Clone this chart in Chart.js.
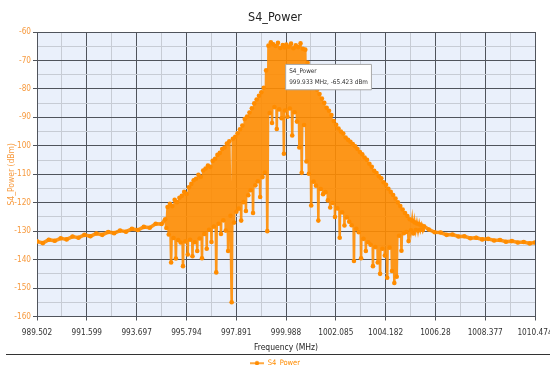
<!DOCTYPE html>
<html>
<head>
<meta charset="utf-8">
<title>S4_Power</title>
<script src="https://cdn.jsdelivr.net/npm/chart.js@4.4.0/dist/chart.umd.min.js"></script>
<style>
  html, body { margin: 0; padding: 0; background: #fff; }
</style>
</head>
<body>
<canvas id="powerChart" width="550" height="365"></canvas>
<script>
// x axis tick labels (MHz), as printed under the plot
var xTickLabels = ['989.502', '991.599', '993.697', '995.794', '997.891', '999.988',
  '1002.085', '1004.182', '1006.28', '1008.377', '1010.474'];

// left noise floor
var freqLeft = [989.502, 989.75, 990.00, 990.25, 990.50, 990.75, 991.00, 991.25, 991.50, 991.75,
  992.00, 992.25, 992.50, 992.75, 993.00, 993.25, 993.50, 993.75, 994.00, 994.25, 994.50, 994.75];
var powerLeft = [-133.6, -134.2, -133.0, -133.4, -132.5, -132.9, -131.9, -132.3, -131.3, -131.8,
  -130.8, -131.3, -130.3, -130.7, -129.8, -130.2, -129.2, -129.6, -128.5, -128.8, -127.4, -127.5];

// occupied band
var freqBand = [
  994.90, 994.95,
  995.00, 995.05, 995.10, 995.15, 995.20, 995.25, 995.30, 995.35, 995.40, 995.45,
  995.50, 995.55, 995.60, 995.65, 995.70, 995.75, 995.80, 995.85, 995.90, 995.95,
  996.00, 996.05, 996.10, 996.15, 996.20, 996.25, 996.30, 996.35, 996.40, 996.45,
  996.50, 996.55, 996.60, 996.65, 996.70, 996.75, 996.80, 996.85, 996.90, 996.95,
  997.00, 997.05, 997.10, 997.15, 997.20, 997.25, 997.30, 997.35, 997.40, 997.45,
  997.50, 997.55, 997.60, 997.65, 997.70, 997.75, 997.80, 997.85, 997.90, 997.95,
  998.00, 998.05, 998.10, 998.15, 998.20, 998.25, 998.30, 998.35, 998.40, 998.45,
  998.50, 998.55, 998.60, 998.65, 998.70, 998.75, 998.80, 998.85, 998.90, 998.95,
  999.00, 999.05, 999.10, 999.15, 999.20, 999.25, 999.30, 999.35, 999.40, 999.45,
  999.50, 999.55, 999.60, 999.65, 999.70, 999.75, 999.80, 999.85, 999.90, 999.933, 999.95,
  1000.00, 1000.05, 1000.10, 1000.15, 1000.20, 1000.25, 1000.30, 1000.35, 1000.40, 1000.45,
  1000.50, 1000.55, 1000.60, 1000.65, 1000.70, 1000.75, 1000.80, 1000.85, 1000.90, 1000.95,
  1001.00, 1001.05, 1001.10, 1001.15, 1001.20, 1001.25, 1001.30, 1001.35, 1001.40, 1001.45,
  1001.50, 1001.55, 1001.60, 1001.65, 1001.70, 1001.75, 1001.80, 1001.85, 1001.90, 1001.95,
  1002.00, 1002.05, 1002.10, 1002.15, 1002.20, 1002.25, 1002.30, 1002.35, 1002.40, 1002.45,
  1002.50, 1002.55, 1002.60, 1002.65, 1002.70, 1002.75, 1002.80, 1002.85, 1002.90, 1002.95,
  1003.00, 1003.05, 1003.10, 1003.15, 1003.20, 1003.25, 1003.30, 1003.35, 1003.40, 1003.45,
  1003.50, 1003.55, 1003.60, 1003.65, 1003.70, 1003.75, 1003.80, 1003.85, 1003.90, 1003.95,
  1004.00, 1004.05, 1004.10, 1004.15, 1004.20, 1004.25, 1004.30, 1004.35, 1004.40, 1004.45,
  1004.50, 1004.55, 1004.60, 1004.65, 1004.70, 1004.75, 1004.80, 1004.85, 1004.90, 1004.95,
  1005.00, 1005.05, 1005.10, 1005.15, 1005.20, 1005.25, 1005.30, 1005.35, 1005.40, 1005.45,
  1005.50, 1005.55, 1005.60, 1005.65, 1005.70, 1005.75, 1005.80
];
var powerBand = [
  -125.8, -128.9,
  -121.5, -131.2, -120.4, -141.0, -121.2, -132.4, -119.0, -139.6, -119.8, -133.1,
  -118.3, -134.0, -117.6, -142.3, -116.2, -133.6, -116.9, -138.2, -114.6, -133.0,
  -113.4, -138.8, -112.1, -133.9, -111.6, -137.0, -110.2, -132.6, -110.9, -139.5,
  -108.7, -131.0, -108.0, -136.2, -106.9, -129.5, -107.4, -133.8, -105.3, -128.4,
  -104.6, -144.5, -103.2, -127.4, -102.5, -131.0, -101.1, -126.2, -100.6, -129.8,
  -99.2, -137.0, -98.4, -124.6, -155.0, -97.5, -127.0, -96.8, -123.2, -95.6,
  -122.1, -94.2, -126.3, -92.9, -119.8, -90.6, -122.9, -89.7, -117.4, -88.3,
  -115.6, -86.8, -123.6, -85.1, -113.9, -83.7, -112.5, -82.4, -118.0, -81.2,
  -111.0, -79.6, -109.4, -73.5, -130.0, -64.8, -88.5, -63.6, -92.0, -64.3,
  -86.4, -64.9, -94.1, -63.8, -87.2, -65.6, -90.3, -64.6, -102.8, -65.423, -87.6,
  -64.4, -89.8, -65.2, -86.9, -64.1, -96.4, -65.7, -88.2, -64.7, -91.5,
  -65.3, -100.6, -64.0, -109.5, -65.9, -92.7, -66.2, -105.5, -70.8, -109.8,
  -75.2, -121.0, -77.4, -112.6, -78.9, -114.0, -80.3, -126.3, -81.8, -115.2,
  -83.4, -117.0, -84.9, -116.3, -86.6, -119.2, -87.7, -121.7, -89.2, -120.1,
  -91.3, -125.0, -92.6, -122.0, -93.9, -132.3, -95.0, -123.4, -95.7, -128.0,
  -97.1, -125.2, -97.9, -126.7, -98.6, -127.9, -99.4, -140.5, -100.2, -129.2,
  -101.1, -130.4, -102.2, -139.5, -103.0, -132.7, -104.1, -137.0, -104.9, -133.9,
  -106.3, -134.8, -107.4, -142.3, -108.8, -135.6, -109.6, -141.0, -110.7, -145.0,
  -111.4, -136.2, -112.8, -138.6, -113.7, -146.4, -115.1, -135.8, -116.2, -144.0,
  -117.3, -148.2, -118.5, -146.0, -119.9, -131.6, -121.2, -136.9, -122.4, -130.7,
  -123.6, -130.3, -124.7, -133.5, -125.8, -129.7, -126.3, -130.8, -126.9, -129.6,
  -127.3, -129.8, -127.6, -129.5, -128.0, -129.6, -128.3
];

// right noise floor
var freqRight = [1006.00, 1006.25, 1006.50, 1006.75, 1007.00, 1007.25, 1007.50, 1007.75, 1008.00, 1008.25,
  1008.50, 1008.75, 1009.00, 1009.25, 1009.50, 1009.75, 1010.00, 1010.25, 1010.474];
var powerRight = [-129.4, -130.4, -130.5, -131.3, -131.2, -131.9, -131.8, -132.5, -132.3, -132.9,
  -132.7, -133.3, -133.1, -133.7, -133.5, -134.0, -133.8, -134.3, -134.0];

// the marker readout shown in the plot
var tipFreq = 999.933;

var freq = freqLeft.concat(freqBand, freqRight);
var power = powerLeft.concat(powerBand, powerRight);
var points = freq.map(function (f, i) { return { x: f, y: power[i] }; });
var bandStart = freqLeft.length;
var bandEnd = freqLeft.length + freqBand.length;

var orange = '#ff8c00';
Chart.defaults.font.family = "'DejaVu Sans Condensed', 'Liberation Sans', sans-serif";

// legend icon: short line with a dot
var legendIcon = document.createElement('canvas');
legendIcon.width = 14;
legendIcon.height = 6;
var g = legendIcon.getContext('2d');
g.strokeStyle = orange;
g.lineWidth = 1.5;
g.beginPath(); g.moveTo(0, 3); g.lineTo(14, 3); g.stroke();
g.fillStyle = orange;
g.beginPath(); g.arc(7, 3, 2.2, 0, Math.PI * 2); g.fill();

Chart.Tooltip.positioners.belowRight = function (items) {
  if (!items.length) return false;
  var el = items[0].element;
  return { x: el.x + 1, y: el.y + 17 };
};

var plotBackground = {
  id: 'plotBackground',
  beforeDraw: function (chart) {
    var a = chart.chartArea, c = chart.ctx;
    c.save();
    c.fillStyle = '#eaf0fb';
    c.fillRect(a.left, a.top, a.right - a.left, a.bottom - a.top);
    c.restore();
  },
  afterDraw: function (chart) {
    var c = chart.ctx;
    c.save();
    c.strokeStyle = '#333';
    c.lineWidth = 1;
    c.beginPath();
    c.moveTo(6, 354.5);
    c.lineTo(550, 354.5);
    c.stroke();
    c.restore();
  }
};

var ctx = document.getElementById('powerChart').getContext('2d');
var chart = new Chart(ctx, {
  type: 'line',
  data: {
    datasets: [{
      label: 'S4_Power',
      data: points,
      borderColor: 'rgba(255,140,0,0.9)',
      backgroundColor: orange,
      borderWidth: 2.6,
      pointRadius: 2.3,
      pointHoverRadius: 2.3,
      pointBorderWidth: 0,
      pointBackgroundColor: orange,
      tension: 0,
      segment: {
        // the noise floor outside the band is drawn as a heavier trace
        borderWidth: function (s) {
          return (s.p1DataIndex <= bandStart || s.p0DataIndex >= bandEnd - 1) ? 3.6 : 2.6;
        }
      }
    }]
  },
  options: {
    responsive: false,
    animation: false,
    events: [],
    layout: { padding: { left: 0, right: 0, top: 0, bottom: -12 } },
    scales: {
      x: {
        type: 'linear',
        min: 989.502,
        max: 1010.474,
        afterFit: function (s) {
          s.height = 39;
          s.paddingLeft = 0;
          s.paddingRight = 15;
        },
        afterBuildTicks: function (axis) {
          var ticks = [];
          xTickLabels.forEach(function (t, i) {
            var v = parseFloat(t);
            ticks.push({ value: v });
            if (i < xTickLabels.length - 1) {
              ticks.push({ value: (v + parseFloat(xTickLabels[i + 1])) / 2 });
            }
          });
          axis.ticks = ticks;
        },
        ticks: {
          autoSkip: false,
          maxRotation: 0,
          padding: 7,
          color: '#333',
          font: { size: 8.2 },
          callback: function (value, index) {
            return index % 2 === 0 ? xTickLabels[index / 2] : '';
          }
        },
        grid: {
          tickLength: 4,
          color: function (c) { return c.index % 2 === 0 ? '#50545c' : '#c7ccd5'; },
          tickColor: function (c) { return c.index % 2 === 0 ? '#50545c' : 'rgba(0,0,0,0)'; }
        },
        border: { color: '#50545c' },
        title: {
          display: true,
          text: 'Frequency (MHz)',
          color: '#222',
          font: { size: 8.5 },
          padding: { top: 0, bottom: 3 }
        }
      },
      y: {
        min: -160,
        max: -60,
        afterFit: function (s) { s.width = 37; },
        ticks: {
          stepSize: 5,
          autoSkip: false,
          padding: 2,
          color: '#f79a3e',
          font: { size: 8.2 },
          callback: function (value) { return value % 10 === 0 ? value : ''; }
        },
        grid: {
          tickLength: 4,
          color: function (c) { return c.tick && c.tick.value % 10 === 0 ? '#50545c' : '#c7ccd5'; },
          tickColor: function (c) { return c.tick && c.tick.value % 10 === 0 ? '#50545c' : 'rgba(0,0,0,0)'; }
        },
        border: { color: '#50545c' },
        title: {
          display: true,
          text: 'S4_Power (dBm)',
          color: '#f79a3e',
          font: { size: 8.5 },
          padding: { top: 7, bottom: 0 }
        }
      }
    },
    plugins: {
      title: {
        display: true,
        text: 'S4_Power',
        color: '#222',
        font: { size: 12.5, weight: 'normal' },
        padding: { top: 10, bottom: 7 }
      },
      legend: {
        position: 'bottom',
        labels: {
          usePointStyle: true,
          pointStyle: legendIcon,
          pointStyleWidth: 14,
          padding: 4,
          color: orange,
          font: { size: 7.5 }
        }
      },
      tooltip: {
        position: 'belowRight',
        xAlign: 'left',
        yAlign: 'top',
        caretSize: 0,
        caretPadding: 0,
        cornerRadius: 0,
        backgroundColor: '#ffffff',
        borderColor: '#a8a8a8',
        borderWidth: 1,
        titleColor: '#333',
        bodyColor: '#333',
        titleFont: { size: 6.4, weight: 'normal' },
        bodyFont: { size: 6.4 },
        titleMarginBottom: 3,
        padding: { x: 3.5, y: 3.5 },
        displayColors: false,
        callbacks: {
          title: function (items) { return items[0].dataset.label; },
          label: function (item) {
            return item.parsed.x.toFixed(3) + ' MHz, ' + item.parsed.y.toFixed(3) + ' dBm';
          }
        }
      }
    }
  },
  plugins: [plotBackground]
});

var tipIndex = freq.indexOf(tipFreq);
chart.tooltip.setActiveElements([{ datasetIndex: 0, index: tipIndex }], { x: 0, y: 0 });
chart.update();
</script>
</body>
</html>
